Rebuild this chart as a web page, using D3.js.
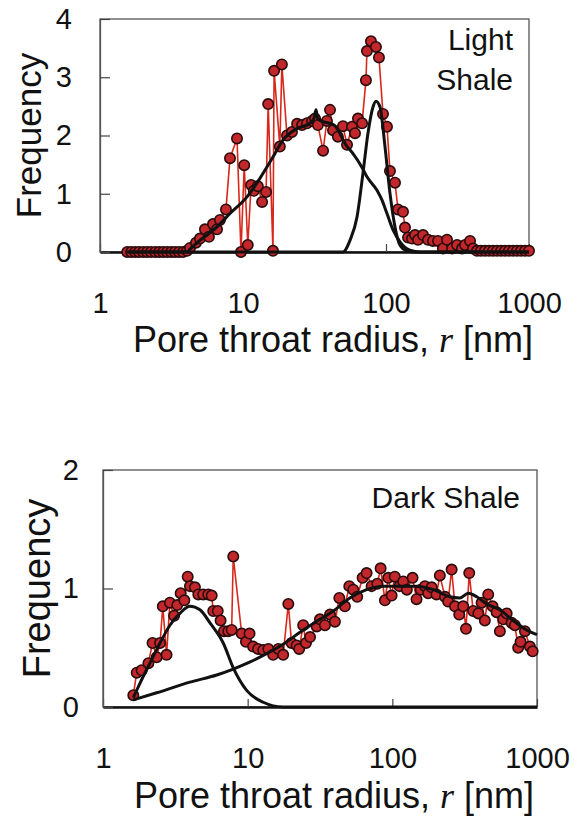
<!DOCTYPE html>
<html>
<head>
<meta charset="utf-8">
<script src="https://cdn.jsdelivr.net/npm/d3@7"></script>
<style>
  body { margin: 0; background: #fff; }
  svg text { font-family: "Liberation Sans", Arial, Helvetica, sans-serif; fill: #111; }
</style>
</head>
<body>
<div id="chart"></div>
<script>
const xTicks = [1, 10, 100, 1000];
const lightYTicks = [0, 1, 2, 3, 4];
const darkYTicks = [0, 1, 2];

// Light shale: measured distribution
const lightR = [1.55, 1.65, 1.76, 1.87, 2.0, 2.13, 2.27, 2.43, 2.59, 2.76, 2.94, 3.14, 3.34, 3.56, 3.80, 4.06,
  4.26, 4.69, 5.0, 5.42, 5.78, 6.17, 6.58, 6.9, 7.6, 8.11, 9.08, 9.68, 10.2, 10.8, 11.4, 11.9, 12.7, 13.6, 14.5, 15.0,
  16.2, 16.5, 18.1, 18.7, 20.3, 22.0, 23.9, 25.9, 28.0, 30.4, 31.9, 33.4, 36.3, 38.6, 40.6, 42.6, 46.1, 50.0, 53.4,
  57.8, 60.7, 63.7, 68.0, 72.4, 73.6, 78.5, 85.1, 89.3, 95.3, 101.6, 106.6, 115.6, 121.3, 131.5, 135.8, 142.6, 152,
  159.6, 167.5, 181.5, 196.8, 213, 231, 250, 267, 290, 314, 340, 357, 387, 406, 433, 461, 492, 525, 560, 597, 637,
  679, 724, 773, 824, 879, 938, 1000];
const lightFreq = [0, 0, 0, 0, 0, 0, 0, 0, 0, 0, 0, 0, 0, 0, 0, 0.02,
  0.07, 0.16, 0.23, 0.39, 0.26, 0.48, 0.39, 0.55, 0.73, 1.61, 1.95, 0, 1.49, 0.12, 1.15, 1.05, 1.13, 0.86, 1.03, 2.54,
  0.02, 3.11, 1.81, 3.22, 2.0, 2.06, 2.2, 2.18, 2.21, 2.25, 2.29, 2.18, 1.74, 2.25, 2.44, 2.09, 1.98, 2.16, 1.84,
  2.15, 2.04, 2.29, 2.21, 2.95, 3.45, 3.62, 3.52, 3.34, 2.37, 2.15, 1.39, 1.19, 0.73, 0.69, 0.42, 0.25, 0.23,
  0.29, 0.21, 0.29, 0.21, 0.19, 0.19, 0.06, 0.21, 0.06, 0.12, 0.06, 0.12, 0.19, 0.06, 0.02, 0.02, 0.02, 0.02, 0.02, 0.02, 0.02,
  0.02, 0.02, 0.02, 0.02, 0.02, 0.02, 0.02];

// Light shale: fitted components
const lightFitAR = [1.55, 4.06, 4.26, 5.0, 6.58, 8.11, 10.7, 13.1, 16.2, 19.0, 23.9, 29.4, 31.4, 32.4, 33.4, 36.3,
  43.3, 53.4, 58.8, 68, 73.6, 86.5, 93.8, 101.6, 112, 125, 147, 173, 1000];
const lightFitAFreq = [0, 0, 0.05, 0.2, 0.43, 0.66, 0.95, 1.26, 1.63, 1.92, 2.12, 2.21, 2.3, 2.44, 2.28, 2.24,
  2.18, 1.81, 1.69, 1.45, 1.29, 1.06, 0.89, 0.66, 0.38, 0.18, 0.03, 0, 0];
const lightFitBR = [1.55, 50, 56, 62.7, 69, 74.8, 81.1, 85.1, 90.8, 98.4, 106.6, 115.6, 125, 140, 160, 1000];
const lightFitBFreq = [0, 0, 0.2, 0.6, 1.35, 2.04, 2.49, 2.59, 2.49, 1.81, 1.01, 0.43, 0.12, 0.02, 0, 0];

// Dark shale: measured distribution
const darkR = [1.62, 1.71, 1.85, 2.06, 2.20, 2.35, 2.48, 2.59, 2.75, 2.90, 3.10, 3.26, 3.44, 3.65, 3.85, 3.99, 4.32,
  4.56, 4.93, 5.34, 5.64, 5.78, 6.21, 6.50, 6.86, 7.34, 7.75, 7.95, 9.09, 9.73, 10.3, 10.9, 11.8, 12.8, 13.9, 15.0,
  16.3, 17.6, 19.1, 20.1, 21.8, 22.7, 24.2, 25.3, 27.0, 30.0, 31.6, 34.2, 37.1, 40.1, 43.0, 47.0, 50.4, 53.7, 57.2,
  62.3, 66.4, 71.9, 78.7, 83.0, 88.9, 93.7, 98.9, 104, 112, 119, 126, 138, 147, 157, 168, 177, 187, 202, 213, 231,
  243, 257, 271, 290, 309, 323, 340, 362, 393, 414, 436, 460, 493, 526, 554, 584, 617, 667, 703, 741, 770, 825, 893, 933];
const darkFreq = [0.10, 0.29, 0.31, 0.37, 0.54, 0.42, 0.54, 0.85, 0.44, 0.88, 0.77, 0.86, 0.96, 0.90, 1.10, 1.02, 1.01,
  0.95, 0.95, 0.95, 0.94, 0.81, 0.81, 0.73, 0.64, 0.64, 0.65, 1.27, 0.62, 0.55, 0.62, 0.51, 0.49, 0.48, 0.49, 0.44,
  0.49, 0.44, 0.87, 0.54, 0.52, 0.49, 0.69, 0.54, 0.59, 0.68, 0.74, 0.69, 0.78, 0.72, 0.92, 0.85, 1.02, 0.99, 0.93,
  1.09, 1.13, 1.02, 1.04, 1.17, 0.90, 1.09, 0.94, 1.10, 1.02, 1.06, 0.99, 1.09, 0.91, 0.99, 1.02, 0.96, 1.01, 0.95, 1.11, 0.93,
  0.89, 1.16, 0.85, 0.78, 0.85, 0.66, 1.13, 0.81, 0.79, 0.88, 0.73, 0.95, 0.85, 0.80, 0.64, 0.74, 0.79, 0.71, 0.69, 0.50, 0.55, 0.64, 0.51, 0.47];

// Dark shale: fitted components
const darkFitCR = [1.62, 1.80, 2.11, 2.48, 2.90, 3.40, 3.99, 4.68, 5.49, 6.78, 7.95, 9.84, 12.8, 17.6, 1000];
const darkFitCFreq = [0.08, 0.20, 0.37, 0.54, 0.69, 0.79, 0.85, 0.82, 0.71, 0.54, 0.33, 0.14, 0.04, 0, 0];
const darkFitDR = [1.62, 2.35, 3.99, 6.11, 7.95, 10.4, 13.5, 17.6, 23.0, 31.6, 39.1, 50.9, 66.4, 86.5, 113, 147,
  192, 250, 293, 335, 383, 449, 554, 684, 847, 1000];
const darkFitDFreq = [0.06, 0.12, 0.21, 0.27, 0.32, 0.38, 0.45, 0.53, 0.63, 0.74, 0.81, 0.92, 0.99, 1.02, 1.02, 1.02,
  0.99, 0.93, 0.92, 0.96, 0.93, 0.87, 0.82, 0.73, 0.65, 0.61];

const zip = (rs, fs) => rs.map((r, i) => ({ r: r, f: fs[i] }));

class PoreChart {

  constructor(opts) {
    this.svg = opts.svg;
    this.box = opts.box;
    this.yMax = opts.yMax;
    this.yTicks = opts.yTicks;
    this.points = opts.points;
    this.fits = opts.fits;
    this.label = opts.label;
    this.yTitle = opts.yTitle;
    this.xTitle = opts.xTitle;
    this.draw();
  }

  draw() {
    this.plot = this.svg.append('g');
    this.createScales();
    this.addFrame();
    this.addAxes();
    this.addSeries();
    this.addText();
  }

  createScales() {
    this.xScale = d3.scaleLog()
                    .domain([1, 1000])
                    .range([this.box.left, this.box.right]);
    this.yScale = d3.scaleLinear()
                    .domain([0, this.yMax])
                    .range([this.box.bottom, this.box.top]);
  }

  addFrame() {
    const b = this.box;
    this.plot.append('rect')
        .attr('x', b.left).attr('y', b.top)
        .attr('width', b.right - b.left).attr('height', b.bottom - b.top)
        .attr('fill', 'none')
        .attr('stroke', '#555')
        .attr('stroke-width', 1.3);
  }

  addAxes() {
    const xAxis = d3.axisBottom(this.xScale)
                    .tickValues(xTicks)
                    .tickFormat(d3.format('d'))
                    .tickSizeInner(-8)
                    .tickSizeOuter(0)
                    .tickPadding(40);
    const yAxis = d3.axisLeft(this.yScale)
                    .tickValues(this.yTicks)
                    .tickFormat(d3.format('d'))
                    .tickSizeInner(-10)
                    .tickSizeOuter(0)
                    .tickPadding(this.box.yPad);

    const gx = this.plot.append('g')
        .attr('transform', `translate(0, ${this.box.bottom})`)
        .call(xAxis)
        .attr('font-size', null).attr('font-family', null);
    gx.select('.domain').attr('stroke', '#111').attr('stroke-width', 2.6);
    gx.selectAll('.tick line').attr('stroke', '#444').attr('stroke-width', 1.2);
    gx.selectAll('.tick text').attr('font-size', 29).attr('fill', '#111');

    const gy = this.plot.append('g')
        .attr('transform', `translate(${this.box.left}, 0)`)
        .call(yAxis)
        .attr('font-size', null).attr('font-family', null);
    gy.select('.domain').attr('stroke', '#555').attr('stroke-width', 1.3);
    gy.selectAll('.tick line').attr('stroke', '#444').attr('stroke-width', 1.2);
    gy.selectAll('.tick text').attr('font-size', 29).attr('fill', '#111');
  }

  addSeries() {
    const line = d3.line()
                   .x(d => this.xScale(d.r))
                   .y(d => this.yScale(d.f));

    this.plot.append('path')
        .datum(this.points)
        .attr('d', line)
        .attr('fill', 'none')
        .attr('stroke', '#d8281c')
        .attr('stroke-width', 1.6);

    this.plot.selectAll('circle.pt')
      .data(this.points).enter()
      .append('circle')
      .attr('class', 'pt')
      .attr('cx', d => this.xScale(d.r))
      .attr('cy', d => this.yScale(d.f))
      .attr('r', 5.2)
      .attr('fill', '#c1272b')
      .attr('stroke', '#2a0b0b')
      .attr('stroke-width', 1.6);

    const smooth = d3.line()
                     .curve(d3.curveMonotoneX)
                     .x(d => this.xScale(d.r))
                     .y(d => this.yScale(d.f));

    this.fits.forEach(fit => {
      this.plot.append('path')
          .datum(fit)
          .attr('d', smooth)
          .attr('fill', 'none')
          .attr('stroke', '#111')
          .attr('stroke-width', 3)
          .attr('stroke-linejoin', 'round');
    });
  }

  addText() {
    const b = this.box;
    this.label.lines.forEach((t, i) => {
      this.plot.append('text')
          .attr('x', this.label.x)
          .attr('y', this.label.y + i * 40)
          .attr('text-anchor', 'end')
          .attr('font-size', 30)
          .text(t);
    });

    this.plot.append('text')
        .attr('transform', `translate(${this.yTitle.x}, ${(b.top + b.bottom) / 2}) rotate(-90)`)
        .attr('text-anchor', 'middle')
        .attr('font-size', this.yTitle.size)
        .text('Frequency');

    const t = this.plot.append('text')
        .attr('x', this.xTitle.x)
        .attr('y', this.xTitle.y)
        .attr('text-anchor', 'middle')
        .attr('font-size', 36);
    t.append('tspan').text('Pore throat radius, ');
    t.append('tspan')
        .attr('font-family', '"Liberation Serif", "Times New Roman", serif')
        .attr('font-style', 'italic')
        .text('r');
    t.append('tspan').text(' [nm]');
  }
}

const svg = d3.select('#chart').append('svg')
    .attr('width', 574)
    .attr('height', 821);
svg.append('rect').attr('width', 574).attr('height', 821).attr('fill', '#fff');

new PoreChart({
  svg: svg,
  box: { left: 100, right: 529, top: 19, bottom: 252, yPad: 28 },
  yMax: 4,
  yTicks: lightYTicks,
  points: zip(lightR, lightFreq),
  fits: [zip(lightFitAR, lightFitAFreq), zip(lightFitBR, lightFitBFreq)],
  label: { x: 513, y: 50, lines: ['Light', 'Shale'] },
  yTitle: { x: 41, size: 35 },
  xTitle: { x: 333, y: 352 }
});

new PoreChart({
  svg: svg,
  box: { left: 103, right: 537, top: 470, bottom: 707, yPad: 24 },
  yMax: 2,
  yTicks: darkYTicks,
  points: zip(darkR, darkFreq),
  fits: [zip(darkFitCR, darkFitCFreq), zip(darkFitDR, darkFitDFreq)],
  label: { x: 520, y: 508, lines: ['Dark Shale'] },
  yTitle: { x: 50, size: 38 },
  xTitle: { x: 334, y: 808 }
});
</script>
</body>
</html>
